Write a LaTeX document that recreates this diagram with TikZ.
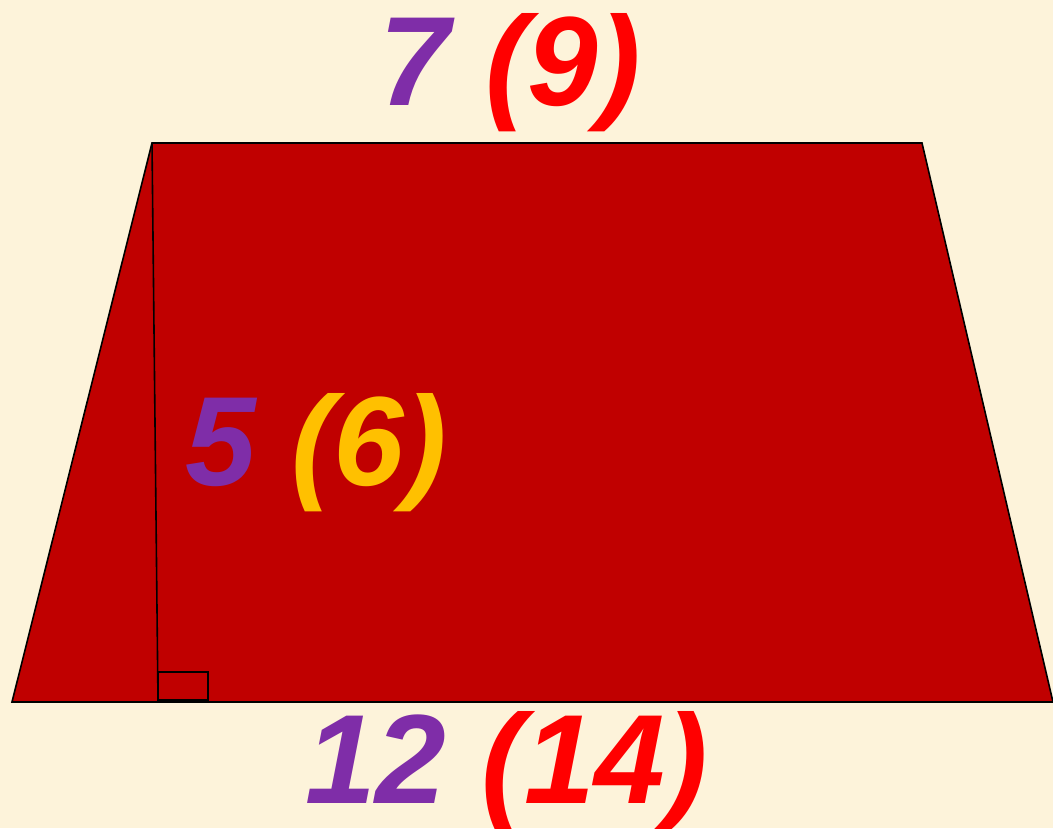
\documentclass[tikz,border=0pt]{standalone}
\usepackage{fontspec}
\setmainfont{Liberation Sans}
\definecolor{bgcream}{HTML}{FDF3DA}
\definecolor{trapred}{HTML}{C00000}
\definecolor{numpurple}{HTML}{7F2DA8}
\definecolor{numred}{HTML}{FF0000}
\definecolor{numgold}{HTML}{FFC000}
\tikzset{
  lbl/.style={inner sep=0pt, anchor=base west, font=\fontsize{127}{130}\selectfont\bfseries\itshape},
  edge/.style={draw=black, line width=1.6pt},
}
\begin{document}
\begin{tikzpicture}[x=1pt,y=-1pt]
\fill[bgcream] (0,0) rectangle (1053,828);
\useasboundingbox (0,0) rectangle (1053,828);
\coordinate (A) at (12,702);
\coordinate (B) at (1053,702);
\coordinate (C) at (922,143);
\coordinate (D) at (152,143);
\coordinate (H) at (158,702);
\filldraw[fill=trapred, edge] (A) -- (B) -- (C) -- (D) -- cycle;
\draw[edge] (D) -- (H);
\draw[edge] (158,672) rectangle (208,700);
\node[lbl] (top) at (379,105) {\textcolor{numpurple}{7} \textcolor{numred}{(9)}};
\node[lbl] (mid) at (185,485) {\textcolor{numpurple}{5} \textcolor{numgold}{(6)}};
\node[lbl] (bot) at (305,803) {\textcolor{numpurple}{12} \textcolor{numred}{(14)}};
\end{tikzpicture}
\end{document}
